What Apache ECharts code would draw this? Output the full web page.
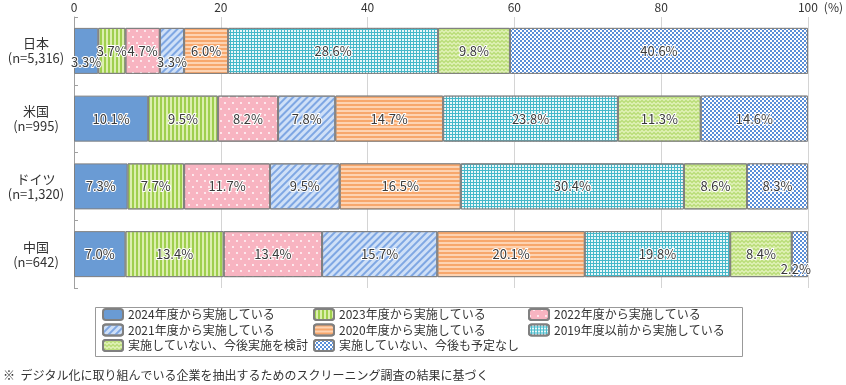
<!DOCTYPE html>
<html><head><meta charset="utf-8">
<script src="https://cdn.jsdelivr.net/npm/echarts@6/dist/echarts.min.js"></script>
<style>html,body{margin:0;padding:0;background:#fff}#c{width:846px;height:385px}</style>
</head><body><div id="c"></div>
<script>
const categories = ['日本\n(n=5,316)', '米国\n(n=995)', 'ドイツ\n(n=1,320)', '中国\n(n=642)'];
const seriesNames = ['2024年度から実施している','2023年度から実施している','2022年度から実施している','2021年度から実施している','2020年度から実施している','2019年度以前から実施している','実施していない、今後実施を検討','実施していない、今後も予定なし'];
const v2024 = [3.3, 10.1, 7.3, 7.0];
const v2023 = [3.7, 9.5, 7.7, 13.4];
const v2022 = [4.7, 8.2, 11.7, 13.4];
const v2021 = [3.3, 7.8, 9.5, 15.7];
const v2020 = [6.0, 14.7, 16.5, 20.1];
const v2019 = [28.6, 23.8, 30.4, 19.8];
const vConsider = [9.8, 11.3, 8.6, 8.4];
const vNone = [40.6, 14.6, 8.3, 2.2];
const xTicks = [0, 20, 40, 60, 80, 100];

const values = [v2024, v2023, v2022, v2021, v2020, v2019, vConsider, vNone];
const FONT = '"Noto Sans CJK JP", "Noto Sans", sans-serif';
const styles = [
  {color:'#6a9bd4'},
  {color:'#dcefae', decal:{symbol:'rect', color:'#9fcf4e', dashArrayX:[1.5,1.5], dashArrayY:[1,0], symbolSize:1}},
  {color:'#f8b4c1', decal:{symbol:'circle', color:'#ffffff', symbolSize:0.9, dashArrayX:[[2,6],[0,4,2,2]], dashArrayY:[2,4]}},
  {color:'#cfe0f7', decal:{symbol:'rect', color:'#7fa7e3', dashArrayX:[1,0], dashArrayY:[2,2.5], rotation:-Math.PI/4, symbolSize:1}},
  {color:'#fdd3b2', decal:{symbol:'rect', color:'#f7a76c', dashArrayX:[1,0], dashArrayY:[1.5,1.5], symbolSize:1}},
  {color:'#45b8c9', decal:{symbol:'rect', color:'#eaf7f9', dashArrayX:[2,1], dashArrayY:[2,1], symbolSize:1}},
  {color:'#dcefb0', decal:{symbol:'path://M0,2 L2,0 L4,2 L4,3 L2,1 L0,3 Z', color:'#9fcf4e', dashArrayX:[4,0], dashArrayY:[3,0.5], symbolSize:1}},
  {color:'#5a8fd8', decal:{symbol:'rect', color:'#ffffff', dashArrayX:[[1.5,1.5],[0,1.5,1.5,0]], dashArrayY:[1.5,0], symbolSize:1}}
];
// label tweaks for tiny segments: [seriesIndex, categoryIndex, offset]
const labelTweaks = [[0,0,[0,11]],[3,0,[0,11]],[7,3,[-4,15]]];

const series = values.map((arr, si) => ({
  name: seriesNames[si],
  type: 'bar',
  stack: 'total',
  barWidth: 46,
  itemStyle: Object.assign({borderColor:'#808080', borderWidth:1}, styles[si]),
  label: {
    show: true, position: 'inside', fontFamily: FONT, fontSize: 13, color: '#3a3a3a',
    textBorderColor: '#fff', textBorderWidth: 2,
    formatter: p => p.value.toFixed(1) + '%'
  },
  emphasis: {disabled: true},
  data: arr.map((v, ci) => {
    const t = labelTweaks.find(x => x[0] === si && x[1] === ci);
    return t ? {value: v, label: {offset: t[2]}} : v;
  })
}));

const legendCols = [[0,3,6],[1,4,7],[2,5]];
const legendLefts = [102, 313, 528];
const legends = legendCols.map((idxs, k) => ({
  orient: 'vertical', left: legendLefts[k], top: 308, padding: 0,
  itemWidth: 20, itemHeight: 11, itemGap: 2.5,
  textStyle: {fontFamily: FONT, fontSize: 12, color: '#333', lineHeight: 12},
  selectedMode: false,
  data: idxs.map(i => seriesNames[i])
}));

const chart = echarts.init(document.getElementById('c'));
chart.setOption({
  animation: false,
  textStyle: {fontFamily: FONT},
  grid: {left: 74, right: 37, top: 17, bottom: 97},
  title: {text: '※  デジタル化に取り組んでいる企業を抽出するためのスクリーニング調査の結果に基づく', left: 3, top: 369, padding: 0,
    textStyle: {fontFamily: FONT, fontSize: 12, fontWeight: 'normal', color: '#333'}},
  xAxis: {
    type: 'value', position: 'top', min: 0, max: 100, interval: 20,
    axisLine: {show: false}, axisTick: {show: false},
    splitLine: {lineStyle: {color: '#d4d4d4'}},
    axisLabel: {margin: 4, fontFamily: FONT, fontSize: 12, color: '#333',
      formatter: v => xTicks.includes(v) ? String(v) : ''},
    name: '(%)', nameLocation: 'end', nameGap: 14,
    nameTextStyle: {fontFamily: FONT, fontSize: 12, color: '#333', verticalAlign: 'bottom', lineHeight: 12, padding: [0,0,4,0]}
  },
  yAxis: {
    type: 'category', inverse: true, data: categories,
    axisLine: {lineStyle: {color: '#a0a0a0'}},
    axisTick: {show: true, inside: true, length: 4, lineStyle: {color: '#a0a0a0'}},
    axisLabel: {align: 'center', margin: 38, fontFamily: FONT, fontSize: 13, color: '#333', lineHeight: 15}
  },
  legend: legends,
  graphic: [{type: 'rect', left: 93, top: 305, shape: {width: 647, height: 49}, style: {fill: 'none', stroke: '#999', lineWidth: 1}, silent: true}],
  series: series
});
</script></body></html>
